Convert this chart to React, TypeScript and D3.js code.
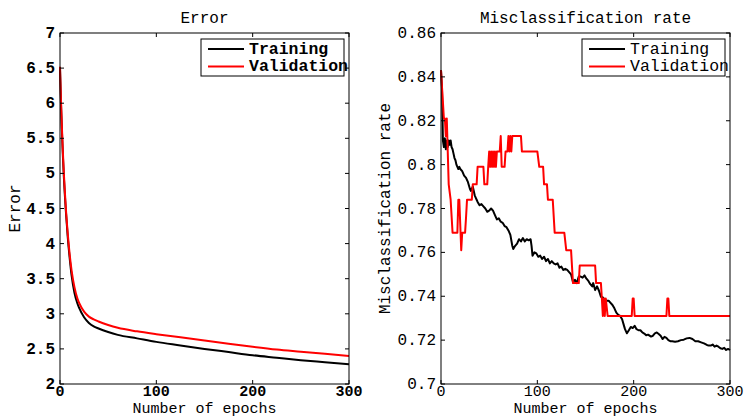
import React, { useEffect, useRef } from "react";
import * as d3 from "d3";

// error curves (cross-entropy) sampled at selected epochs
const errEpochs = [0, 1, 2, 3, 4, 5, 6, 8, 10, 12, 15, 18, 20, 25, 30, 35, 40, 50, 60, 80, 100, 125, 150, 175, 200, 225, 250, 275, 300];
const errTrain = [6.5, 6.0, 5.6, 5.25, 4.95, 4.7, 4.48, 4.1, 3.8, 3.55, 3.3, 3.15, 3.08, 2.95, 2.87, 2.82, 2.79, 2.74, 2.7, 2.65, 2.6, 2.55, 2.5, 2.455, 2.41, 2.375, 2.34, 2.31, 2.28];
const errVal = [6.52, 6.05, 5.65, 5.3, 5.0, 4.75, 4.52, 4.15, 3.85, 3.62, 3.38, 3.22, 3.15, 3.03, 2.96, 2.92, 2.89, 2.84, 2.8, 2.75, 2.71, 2.665, 2.62, 2.575, 2.53, 2.49, 2.46, 2.43, 2.4];

// misclassification rate, training
const trainEpochs = [0, 1, 2, 3, 4, 5, 6, 7, 8, 9, 10, 11, 12, 13, 14, 15, 16, 17, 18, 19, 20, 22, 24, 26, 28, 30, 31, 32, 33, 34, 35, 36, 37, 38, 40, 42, 44, 46, 48, 50, 52, 54, 56, 58, 60, 62, 64, 66, 68, 70, 72, 74, 75, 77, 79, 81, 83, 85, 87, 89, 91, 93, 94, 95, 97, 99, 101, 103, 105, 107, 109, 111, 113, 115, 117, 119, 121, 123, 125, 127, 129, 131, 133, 135, 137, 139, 141, 143, 145, 147, 149, 151, 153, 155, 157, 158, 160, 162, 164, 166, 168, 170, 172, 174, 176, 178, 180, 182, 184, 186, 188, 190, 191, 193, 195, 197, 199, 201, 203, 205, 207, 209, 211, 213, 215, 218, 220, 222, 224, 226, 228, 230, 232, 234, 236, 238, 240, 243, 246, 249, 252, 255, 258, 261, 264, 267, 270, 273, 276, 278, 280, 282, 284, 286, 288, 290, 292, 294, 296, 298, 300];
const trainRate = [0.843, 0.835, 0.811, 0.808, 0.812, 0.807, 0.811, 0.808, 0.811, 0.809, 0.811, 0.808, 0.807, 0.805, 0.803, 0.802, 0.8, 0.799, 0.798, 0.799, 0.798, 0.797, 0.795, 0.794, 0.792, 0.789, 0.788, 0.789, 0.79, 0.788, 0.786, 0.785, 0.784, 0.783, 0.7815, 0.782, 0.781, 0.78, 0.7785, 0.779, 0.78, 0.779, 0.777, 0.775, 0.7755, 0.774, 0.7735, 0.772, 0.7715, 0.77, 0.768, 0.763, 0.7615, 0.763, 0.764, 0.766, 0.765, 0.7665, 0.765, 0.766, 0.7655, 0.766, 0.763, 0.7585, 0.76, 0.7595, 0.758, 0.7585, 0.757, 0.758, 0.756, 0.757, 0.755, 0.756, 0.755, 0.7545, 0.755, 0.753, 0.7535, 0.752, 0.7525, 0.752, 0.751, 0.75, 0.7465, 0.7475, 0.746, 0.749, 0.749, 0.7485, 0.7495, 0.748, 0.747, 0.7455, 0.7445, 0.746, 0.7428, 0.7445, 0.7425, 0.7398, 0.7395, 0.7385, 0.738, 0.738, 0.737, 0.736, 0.7345, 0.7325, 0.7315, 0.731, 0.7295, 0.7265, 0.725, 0.7231, 0.7245, 0.726, 0.7255, 0.7265, 0.725, 0.7245, 0.7245, 0.7235, 0.723, 0.7222, 0.7225, 0.7216, 0.722, 0.7231, 0.7235, 0.7228, 0.722, 0.7205, 0.7215, 0.721, 0.72, 0.7195, 0.7195, 0.7193, 0.7195, 0.72, 0.7202, 0.7208, 0.721, 0.7205, 0.7195, 0.7195, 0.719, 0.7185, 0.7178, 0.7175, 0.7175, 0.718, 0.717, 0.7175, 0.717, 0.7163, 0.716, 0.7165, 0.7155, 0.716, 0.7155];

// misclassification rate, validation
const valEpochs = [0, 3, 4, 5, 6, 7, 8, 10, 12, 17, 18, 19, 21, 22, 25, 26, 27, 32, 33, 37, 38, 44, 45, 48, 49, 50, 51, 52, 53, 54, 55, 56, 57, 58, 61, 62, 63, 66, 67, 69, 70, 71, 72, 73, 74, 83, 84, 100, 102, 106, 107, 110, 111, 116, 118, 119, 128, 130, 135, 137, 143, 144, 160, 161, 166, 167, 168, 169, 170, 171, 173, 198, 199, 200, 201, 234, 235, 236, 237, 300];
const valRate = [0.843, 0.821, 0.821, 0.813, 0.821, 0.806, 0.791, 0.784, 0.769, 0.769, 0.784, 0.784, 0.761, 0.769, 0.769, 0.776, 0.784, 0.784, 0.791, 0.791, 0.799, 0.799, 0.791, 0.791, 0.799, 0.806, 0.799, 0.806, 0.799, 0.806, 0.799, 0.806, 0.799, 0.806, 0.806, 0.813, 0.799, 0.799, 0.806, 0.806, 0.813, 0.806, 0.813, 0.806, 0.813, 0.813, 0.806, 0.806, 0.799, 0.799, 0.791, 0.791, 0.784, 0.784, 0.769, 0.769, 0.769, 0.761, 0.761, 0.746, 0.746, 0.754, 0.754, 0.746, 0.746, 0.739, 0.731, 0.739, 0.731, 0.739, 0.731, 0.731, 0.739, 0.739, 0.731, 0.731, 0.739, 0.739, 0.731, 0.731];

const xTicks = [0, 100, 200, 300];
const errTicks = [2, 2.5, 3, 3.5, 4, 4.5, 5, 5.5, 6, 6.5, 7];
const rateTicks = [0.7, 0.72, 0.74, 0.76, 0.78, 0.8, 0.82, 0.84, 0.86];
const legendLabels = ["Training", "Validation"];
const colors = ["#000000", "#ff0000"];

const W = 745;
const H = 418;
const FONT = "'Liberation Mono', 'Courier New', monospace";

type Panel = {
  left: number;
  title: string;
  ylabel: string;
  ylabelOffset: number;
  yDomain: [number, number];
  yTicks: number[];
  bold: boolean;
  series: { xs: number[]; ys: number[]; smooth: boolean }[];
};

const App = () => {
  const ref = useRef<SVGSVGElement | null>(null);

  useEffect(() => {
    const svg = d3.select(ref.current);
    svg.selectAll("*").remove();

    const top = 33;
    const bottom = 384;
    const pw = 289;

    const panels: Panel[] = [
      {
        left: 60,
        title: "Error",
        ylabel: "Error",
        ylabelOffset: 40,
        yDomain: [2, 7],
        yTicks: errTicks,
        bold: true,
        series: [
          { xs: errEpochs, ys: errTrain, smooth: true },
          { xs: errEpochs, ys: errVal, smooth: true },
        ],
      },
      {
        left: 441,
        title: "Misclassification rate",
        ylabel: "Misclassification rate",
        ylabelOffset: 51,
        yDomain: [0.7, 0.86],
        yTicks: rateTicks,
        bold: false,
        series: [
          { xs: trainEpochs, ys: trainRate, smooth: false },
          { xs: valEpochs, ys: valRate, smooth: false },
        ],
      },
    ];

    panels.forEach((p, pi) => {
      const x = d3.scaleLinear().domain([0, 300]).range([p.left, p.left + pw]);
      const y = d3.scaleLinear().domain(p.yDomain).range([bottom, top]);
      const g = svg.append("g");
      const weight = p.bold ? "bold" : "normal";

      g.append("rect")
        .attr("x", p.left)
        .attr("y", top)
        .attr("width", pw)
        .attr("height", bottom - top)
        .attr("fill", "#fff");

      const clipId = "clip" + pi;
      g.append("clipPath")
        .attr("id", clipId)
        .append("rect")
        .attr("x", p.left - 1)
        .attr("y", top - 1)
        .attr("width", pw + 2)
        .attr("height", bottom - top + 2);

      p.series.forEach((s, si) => {
        const line = d3
          .line<number>()
          .x((d, i) => x(s.xs[i]))
          .y((d) => y(d))
          .curve(s.smooth ? d3.curveMonotoneX : d3.curveLinear);
        g.append("path")
          .attr("d", line(s.ys) || "")
          .attr("fill", "none")
          .attr("stroke", colors[si])
          .attr("stroke-width", 2)
          .attr("stroke-linejoin", "round")
          .attr("clip-path", `url(#${clipId})`);
      });

      // box
      g.append("rect")
        .attr("x", p.left)
        .attr("y", top)
        .attr("width", pw)
        .attr("height", bottom - top)
        .attr("fill", "none")
        .attr("stroke", "#000")
        .attr("stroke-width", 1);

      // inward ticks on all sides
      xTicks.forEach((t) => {
        g.append("line").attr("x1", x(t)).attr("x2", x(t)).attr("y1", bottom).attr("y2", bottom - 4).attr("stroke", "#000");
        g.append("line").attr("x1", x(t)).attr("x2", x(t)).attr("y1", top).attr("y2", top + 4).attr("stroke", "#000");
        g.append("text")
          .attr("x", x(t))
          .attr("y", 396)
          .attr("text-anchor", "middle")
          .attr("font-family", FONT)
          .attr("font-size", 15)
          .attr("font-weight", weight)
          .text(String(t));
      });
      p.yTicks.forEach((t) => {
        g.append("line").attr("x1", p.left).attr("x2", p.left + 4).attr("y1", y(t)).attr("y2", y(t)).attr("stroke", "#000");
        g.append("line").attr("x1", p.left + pw).attr("x2", p.left + pw - 4).attr("y1", y(t)).attr("y2", y(t)).attr("stroke", "#000");
        g.append("text")
          .attr("x", p.left - 5)
          .attr("y", y(t) + 5)
          .attr("text-anchor", "end")
          .attr("font-family", FONT)
          .attr("font-size", 16)
          .attr("font-weight", weight)
          .text(String(+t.toFixed(2)));
      });

      g.append("text")
        .attr("x", p.left + pw / 2)
        .attr("y", 23)
        .attr("text-anchor", "middle")
        .attr("font-family", FONT)
        .attr("font-size", 16)
        .text(p.title);

      g.append("text")
        .attr("x", p.left + pw / 2)
        .attr("y", 413)
        .attr("text-anchor", "middle")
        .attr("font-family", FONT)
        .attr("font-size", 15)
        .text("Number of epochs");

      g.append("text")
        .attr("transform", `translate(${p.left - p.ylabelOffset},${(top + bottom) / 2}) rotate(-90)`)
        .attr("text-anchor", "middle")
        .attr("font-family", FONT)
        .attr("font-size", 16)
        .text(p.ylabel);

      // legend
      const lx = p.left + pw - 148;
      const leg = g.append("g");
      leg.append("rect")
        .attr("x", lx)
        .attr("y", 39)
        .attr("width", 143)
        .attr("height", 37)
        .attr("fill", "#fff")
        .attr("stroke", "#000")
        .attr("stroke-width", 1);
      legendLabels.forEach((lab, i) => {
        const ly = 49 + i * 17.5;
        leg.append("line")
          .attr("x1", lx + 7)
          .attr("x2", lx + 43)
          .attr("y1", ly)
          .attr("y2", ly)
          .attr("stroke", colors[i])
          .attr("stroke-width", 2);
        leg.append("text")
          .attr("x", lx + 48)
          .attr("y", ly + 4.5)
          .attr("font-family", FONT)
          .attr("font-size", 16.5)
          .attr("font-weight", weight)
          .text(lab);
      });
    });
  }, []);

  return (
    <svg
      ref={ref}
      width={W}
      height={H}
      style={{ position: "absolute", left: 0, top: 0, background: "#fff" }}
    />
  );
};

export default App;
